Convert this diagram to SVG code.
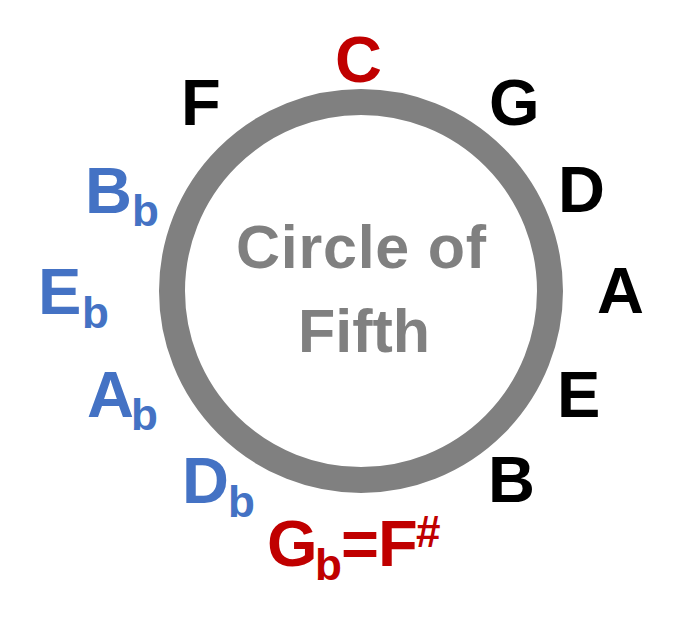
<svg xmlns="http://www.w3.org/2000/svg" width="680" height="620" viewBox="0 0 680 620">
<style>
text{font-family:"Liberation Sans",Arial,sans-serif;font-weight:bold;font-size:65px}
.blk{fill:#000000}
.red{fill:#C00000}
.blu{fill:#4472C4}
.sub{font-size:44px}
.title{fill:#808080;font-size:61px;text-anchor:middle}
</style>
<rect width="680" height="620" fill="#ffffff"/>
<g id="ring">
<circle cx="361" cy="291" r="189" fill="none" stroke="#808080" stroke-width="26"/>
<text class="title" x="361" y="268" textLength="250" lengthAdjust="spacing">Circle of</text>
<text class="title" x="364" y="352">Fifth</text>
</g>
<g id="note-C"><text class="red" x="335" y="82">C</text></g>
<g id="note-G"><text class="blk" x="489" y="125">G</text></g>
<g id="note-D"><text class="blk" x="558" y="212">D</text></g>
<g id="note-A"><text class="blk" x="597" y="313">A</text></g>
<g id="note-E"><text class="blk" x="557" y="417">E</text></g>
<g id="note-B"><text class="blk" x="488" y="502">B</text></g>
<g id="note-F"><text class="blk" x="181" y="125">F</text></g>
<g id="note-Bb"><text class="blu" x="85" y="213">B<tspan class="sub" x="132" y="226">b</tspan></text></g>
<g id="note-Eb"><text class="blu" x="38" y="314">E<tspan class="sub" x="82" y="328">b</tspan></text></g>
<g id="note-Ab"><text class="blu" x="87" y="417">A<tspan class="sub" x="131" y="430">b</tspan></text></g>
<g id="note-Db"><text class="blu" x="182" y="503">D<tspan class="sub" x="228" y="517">b</tspan></text></g>
<g id="note-Gb"><text class="red" x="267" y="566">G<tspan class="sub" x="315" y="580">b</tspan><tspan x="341" y="566">=</tspan><tspan x="378" y="566">F</tspan><tspan class="sub" x="416" y="547">#</tspan></text></g>
<g id="connectors"></g>
</svg>
